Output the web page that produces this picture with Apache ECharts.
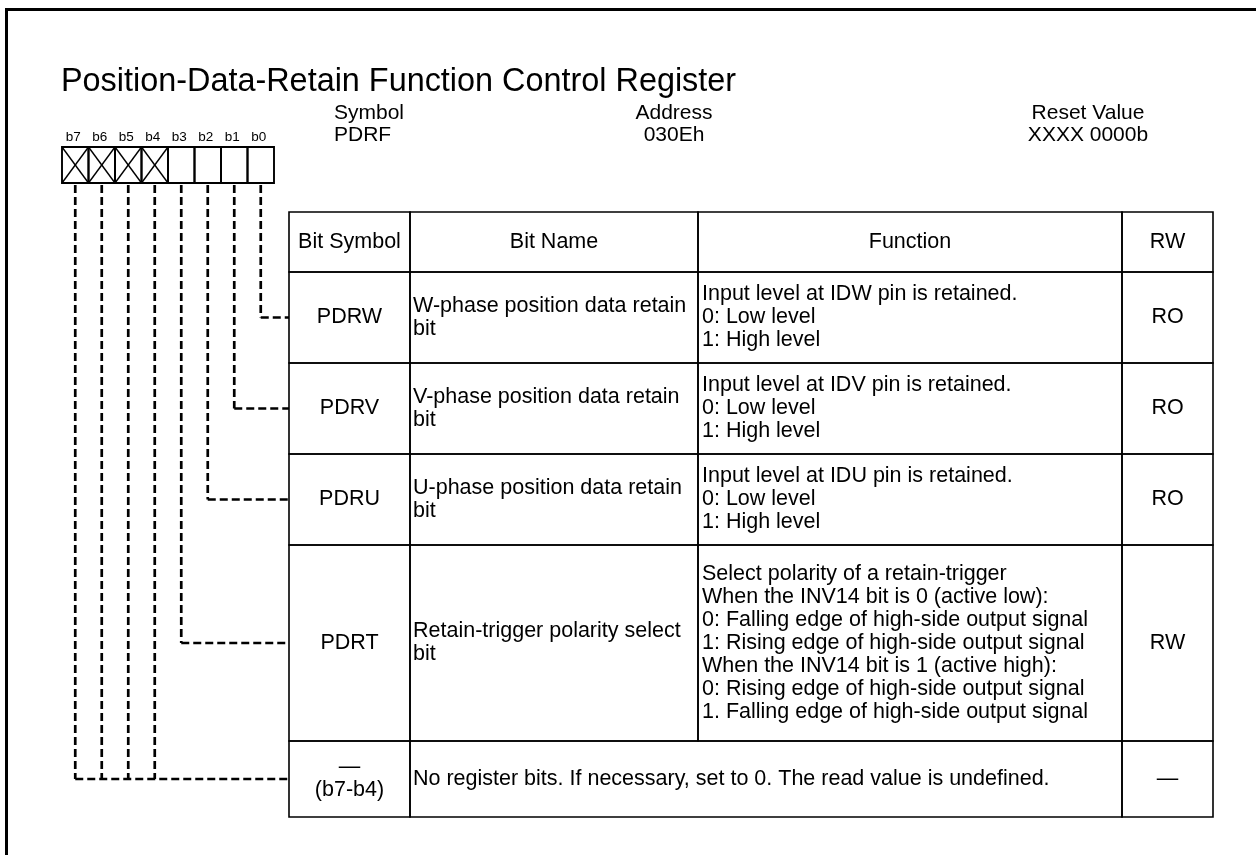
<!DOCTYPE html>
<html>
<head>
<meta charset="utf-8">
<script src="https://cdn.jsdelivr.net/npm/echarts@6/dist/echarts.min.js"></script>
<style>
html,body{margin:0;padding:0;background:#fff;}
#chart{width:1256px;height:855px;}
</style>
</head>
<body>
<div id="chart"></div>
<script>
// ---------- data ----------
const titleText = 'Position-Data-Retain Function Control Register';
const bitLabels = ['b7', 'b6', 'b5', 'b4', 'b3', 'b2', 'b1', 'b0'];
const bitReserved = [true, true, true, true, false, false, false, false];
const infoLabels = ['Symbol', 'Address', 'Reset Value'];
const infoValues = ['PDRF', '030Eh', 'XXXX 0000b'];
const headers = ['Bit Symbol', 'Bit Name', 'Function', 'RW'];
const bitSymbols = ['PDRW', 'PDRV', 'PDRU', 'PDRT', '—\n(b7-b4)'];
const bitNames = [
  'W-phase position data retain\nbit',
  'V-phase position data retain\nbit',
  'U-phase position data retain\nbit',
  'Retain-trigger polarity select\nbit',
  ''
];
const functions = [
  'Input level at IDW pin is retained.\n0: Low level\n1: High level',
  'Input level at IDV pin is retained.\n0: Low level\n1: High level',
  'Input level at IDU pin is retained.\n0: Low level\n1: High level',
  'Select polarity of a retain-trigger\nWhen the INV14 bit is 0 (active low):\n0: Falling edge of high-side output signal\n1: Rising edge of high-side output signal\nWhen the INV14 bit is 1 (active high):\n0: Rising edge of high-side output signal\n1. Falling edge of high-side output signal',
  'No register bits. If necessary, set to 0. The read value is undefined.'
];
const rwValues = ['RO', 'RO', 'RO', 'RW', '—'];
// which bit labels feed which table row
const rowBits = [['b0'], ['b1'], ['b2'], ['b3'], ['b7', 'b6', 'b5', 'b4']];

// ---------- layout (pixels in the 1256 x 855 frame) ----------
const W = 1256, H = 855;
const FONT = "'Liberation Sans', Arial, Helvetica, sans-serif";
const COLS = [289, 410, 698, 1122, 1213];
const ROWS = [212, 272, 363, 454, 545, 741, 817];
const BOX = { x0: 62, w: 26.5, y0: 147, y1: 183, labelY: 137, labelDx: -2 };
const INFO = { y0: 113, y1: 135, x: [334, 674, 1088], align: ['left', 'center', 'center'] };
const FS = 21.5, LH = 23;

function bitX(label) {
  const i = bitLabels.indexOf(label);
  return BOX.x0 + (i + 0.5) * BOX.w;
}

const chart = echarts.init(document.getElementById('chart'), null, { renderer: 'canvas' });

function txt(api, x, y, text, align, size, lh) {
  const p = api.coord([x, y]);
  return {
    type: 'text',
    style: {
      x: p[0], y: p[1], text: text,
      fill: '#000',
      fontSize: size || FS, fontFamily: FONT,
      align: align || 'center', verticalAlign: 'middle',
      lineHeight: lh || LH
    }
  };
}
function rect(api, x0, y0, x1, y1, lw) {
  const a = api.coord([x0, y0]), b = api.coord([x1, y1]);
  return {
    type: 'rect',
    shape: { x: a[0], y: a[1], width: b[0] - a[0], height: b[1] - a[1] },
    style: { fill: null, stroke: '#000', lineWidth: lw || 1.6 }
  };
}
function line(api, pts, lw, dash) {
  return {
    type: 'polyline',
    shape: { points: pts.map(p => api.coord(p)) },
    style: { fill: null, stroke: '#000', lineWidth: lw || 1.6, lineDash: dash || null }
  };
}

// connectors (dashed) – drawn first
function renderConnector(params, api) {
  const r = api.value(0);
  const yMid = (ROWS[r + 1] + ROWS[r + 2]) / 2;
  const bits = rowBits[r];
  const children = [];
  bits.forEach(b => {
    const x = bitX(b);
    children.push(line(api, [[x, BOX.y1 + 2], [x, yMid]], 2.7, [8, 4]));
  });
  const xs = bits.map(bitX);
  children.push(line(api, [[Math.min.apply(null, xs), yMid], [COLS[0], yMid]], 2.7, [8, 4]));
  return { type: 'group', children };
}

function renderBit(params, api) {
  const i = api.value(0);
  const x0 = BOX.x0 + i * BOX.w, x1 = x0 + BOX.w;
  const children = [rect(api, x0, BOX.y0, x1, BOX.y1, 1.9)];
  if (bitReserved[i]) {
    children.push(line(api, [[x0, BOX.y0], [x1, BOX.y1]], 1.4));
    children.push(line(api, [[x1, BOX.y0], [x0, BOX.y1]], 1.4));
  }
  children.push(txt(api, (x0 + x1) / 2 + BOX.labelDx, BOX.labelY, bitLabels[i], 'center', 13.5, 14));
  return { type: 'group', children };
}

function renderInfo(params, api) {
  const i = api.value(0);
  return {
    type: 'group',
    children: [
      txt(api, INFO.x[i], INFO.y0, infoLabels[i], INFO.align[i], 21),
      txt(api, INFO.x[i], INFO.y1, infoValues[i], INFO.align[i], 21)
    ]
  };
}

function renderHeader(params, api) {
  const c = api.value(0);
  return {
    type: 'group',
    children: [
      rect(api, COLS[c], ROWS[0], COLS[c + 1], ROWS[1]),
      txt(api, (COLS[c] + COLS[c + 1]) / 2, (ROWS[0] + ROWS[1]) / 2, headers[c], 'center')
    ]
  };
}

function renderRow(params, api) {
  const r = api.value(0);
  const y0 = ROWS[r + 1], y1 = ROWS[r + 2], ym = (y0 + y1) / 2;
  const children = [];
  children.push(rect(api, COLS[0], y0, COLS[1], y1));
  children.push(txt(api, (COLS[0] + COLS[1]) / 2, ym, bitSymbols[r], 'center'));
  if (bitNames[r]) {
    children.push(rect(api, COLS[1], y0, COLS[2], y1));
    children.push(txt(api, COLS[1] + 3, ym, bitNames[r], 'left'));
    children.push(rect(api, COLS[2], y0, COLS[3], y1));
    children.push(txt(api, COLS[2] + 4, ym, functions[r], 'left'));
  } else {
    children.push(rect(api, COLS[1], y0, COLS[3], y1));
    children.push(txt(api, COLS[1] + 3, ym, functions[r], 'left'));
  }
  children.push(rect(api, COLS[3], y0, COLS[4], y1));
  children.push(txt(api, (COLS[3] + COLS[4]) / 2, ym, rwValues[r], 'center'));
  return { type: 'group', children };
}

const idx = arr => arr.map((_, i) => [i]);

chart.setOption({
  animation: false,
  backgroundColor: '#fff',
  title: {
    text: titleText, left: 61, top: 66, padding: 0,
    textStyle: { fontSize: 32.4, fontWeight: 'normal', color: '#000', fontFamily: FONT }
  },
  grid: { left: 0, right: 0, top: 0, bottom: 0 },
  xAxis: { type: 'value', min: 0, max: W, show: false },
  yAxis: { type: 'value', min: 0, max: H, inverse: true, show: false },
  graphic: [
    { type: 'rect', shape: { x: 5, y: 8, width: W - 5, height: 3 }, style: { fill: '#000' } },
    { type: 'rect', shape: { x: 5, y: 8, width: 3, height: H - 8 }, style: { fill: '#000' } }
  ],
  series: [
    { type: 'custom', name: 'connectors', silent: true, clip: false, renderItem: renderConnector, data: idx(rowBits) },
    { type: 'custom', name: 'bits', silent: true, clip: false, renderItem: renderBit, data: idx(bitLabels) },
    { type: 'custom', name: 'info', silent: true, clip: false, renderItem: renderInfo, data: idx(infoLabels) },
    { type: 'custom', name: 'header', silent: true, clip: false, renderItem: renderHeader, data: idx(headers) },
    { type: 'custom', name: 'rows', silent: true, clip: false, renderItem: renderRow, data: idx(bitSymbols) }
  ]
});
</script>
</body>
</html>
